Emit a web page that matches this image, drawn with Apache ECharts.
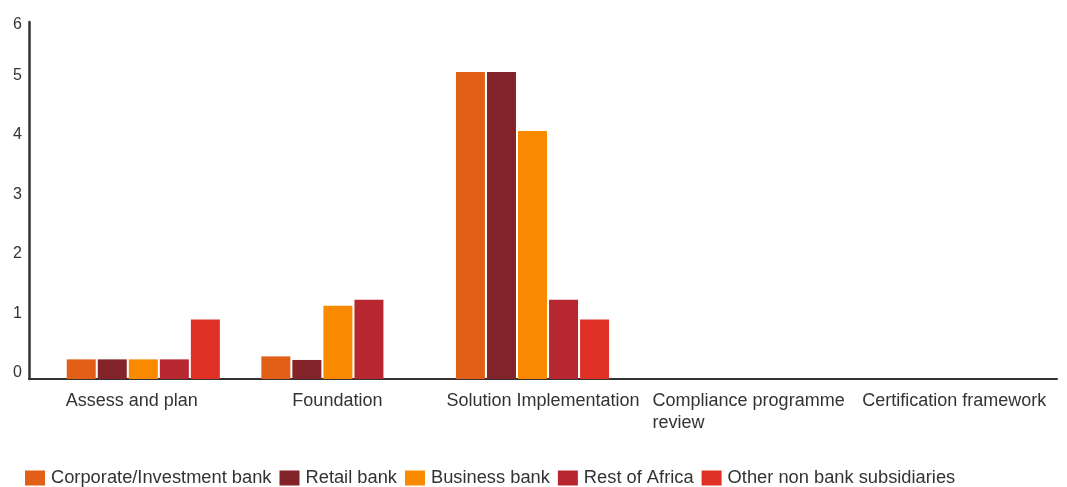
<!DOCTYPE html>
<html>
<head>
<meta charset="utf-8">
<script src="https://cdn.jsdelivr.net/npm/echarts@6/dist/echarts.min.js"></script>
<style>
  html, body { margin: 0; padding: 0; background: #ffffff; }
  #chart { width: 1067px; height: 487px; }
</style>
</head>
<body>
<div id="chart"></div>
<script>
// Categories along the x axis (programme phases)
const categories = [
  'Assess and plan',
  'Foundation',
  'Solution Implementation',
  'Compliance programme\nreview',
  'Certification framework'
];

// One value per phase for each business unit
const corporateInvestment = [0.33, 0.38, 5.16, 0, 0];
const retailBank          = [0.33, 0.32, 5.16, 0, 0];
const businessBank        = [0.33, 1.23, 4.17, 0, 0];
const restOfAfrica        = [0.33, 1.33, 1.33, 0, 0];
const otherNonBank        = [1.0,  0,    1.0,  0, 0];

const seriesNames = [
  'Corporate/Investment bank',
  'Retail bank',
  'Business bank',
  'Rest of Africa',
  'Other non bank subsidiaries'
];
const seriesValues = [corporateInvestment, retailBank, businessBank, restOfAfrica, otherNonBank];
const seriesColors = ['#E15F17', '#82232A', '#F98A00', '#B6272F', '#E03127'];

// Y-axis tick range
const yMin = 0, yMax = 6, yStep = 1;

const FONT = '"Liberation Sans", Arial, Helvetica, sans-serif';
const TEXT = '#333333';

const chart = echarts.init(document.getElementById('chart'), null, { renderer: 'canvas' });

chart.setOption({
  animation: false,
  textStyle: { fontFamily: FONT },
  color: seriesColors,
  // grid 0: visible frame (axis lines + labels); grid 1: plotting band for the bars
  grid: [
    { left: 29, right: 10, top: 22, bottom: 108, containLabel: false },
    { left: 46, right: 48, top: 22, bottom: 108, containLabel: false }
  ],
  legend: {
    left: 25,
    top: 469,
    padding: 0,
    itemWidth: 20,
    itemHeight: 15,
    itemGap: 8,
    icon: 'rect',
    textStyle: { fontFamily: FONT, fontSize: 18.3, color: TEXT, padding: [0, 0, 0, 1] },
    data: seriesNames
  },
  xAxis: [
    {
      gridIndex: 0,
      type: 'category',
      data: categories,
      axisLine: { show: true, lineStyle: { color: '#333333', width: 2 } },
      axisTick: { show: false },
      axisLabel: {
        interval: 0,
        margin: 11,
        color: TEXT,
        fontFamily: FONT,
        fontSize: 18,
        lineHeight: 22,
        formatter: function (v) {
          return v.split('\n').map(function (line) { return '{t|' + line + '}'; }).join('\n');
        },
        rich: {
          t: { align: 'left', fontFamily: FONT, fontSize: 18, color: TEXT, lineHeight: 22 }
        }
      },
      splitLine: { show: false }
    },
    {
      gridIndex: 1,
      type: 'category',
      data: categories,
      axisLine: { show: false },
      axisTick: { show: false },
      axisLabel: { show: false },
      splitLine: { show: false }
    }
  ],
  yAxis: [
    {
      gridIndex: 0,
      type: 'value',
      min: yMin,
      max: yMax,
      interval: yStep,
      axisLine: { show: true, lineStyle: { color: '#333333', width: 2.5 } },
      axisTick: { show: false },
      splitLine: { show: false },
      axisLabel: {
        margin: 7,
        color: TEXT,
        fontFamily: FONT,
        fontSize: 16,
        formatter: function (v) {
          return v === yMax ? '{top|' + v + '}' : '{n|' + v + '}';
        },
        rich: {
          n: { fontFamily: FONT, fontSize: 16, color: TEXT, padding: [0, 0, 12, 0] },
          top: { fontFamily: FONT, fontSize: 16, color: TEXT, padding: [6, 0, 0, 0] }
        }
      }
    },
    {
      gridIndex: 1,
      type: 'value',
      min: yMin,
      max: yMax,
      interval: yStep,
      axisLine: { show: false },
      axisTick: { show: false },
      axisLabel: { show: false },
      splitLine: { show: false }
    }
  ],
  series: seriesNames.map(function (name, i) {
    return {
      name: name,
      type: 'bar',
      xAxisIndex: 1,
      yAxisIndex: 1,
      data: seriesValues[i],
      barWidth: 29,
      barGap: '7%',
      itemStyle: { color: seriesColors[i] },
      z: 1
    };
  })
});
</script>
</body>
</html>
